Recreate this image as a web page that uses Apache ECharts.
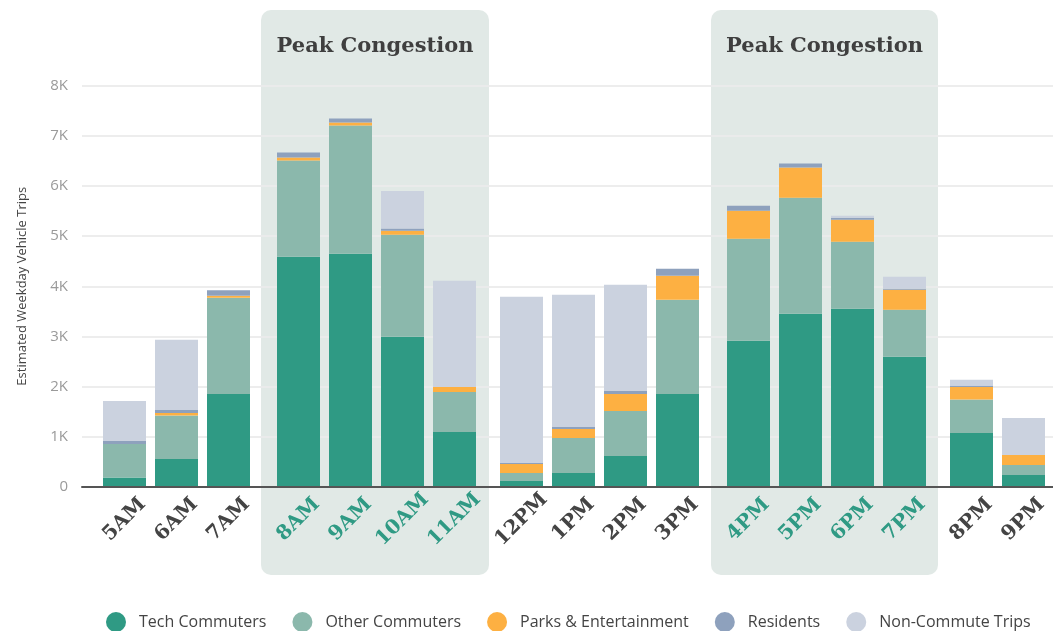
<!DOCTYPE html>
<html>
<head>
<meta charset="utf-8">
<script src="https://cdn.jsdelivr.net/npm/echarts@6/dist/echarts.min.js"></script>
<style>
html,body{margin:0;padding:0;background:#fff;}
#chart{width:1053px;height:631px;}
</style>
</head>
<body>
<div id="chart"></div>
<script>
// ---- data ----
var hours = ['5AM','6AM','7AM','8AM','9AM','10AM','11AM','12PM','1PM','2PM','3PM','4PM','5PM','6PM','7PM','8PM','9PM'];
var groupSizes = [3, 4, 4, 4, 2];
var peakGroups = [false, true, false, true, false];
var seriesNames = ['Tech Commuters','Other Commuters','Parks & Entertainment','Residents','Non-Commute Trips'];
var techCommuters  = [180, 550, 1850, 4590, 4650, 2990, 1090, 110, 270, 610, 1850, 2910, 3450, 3550, 2590, 1070, 230];
var otherCommuters = [670, 870, 1920, 1920, 2560, 2040, 800, 160, 700, 900, 1880, 2040, 2320, 1340, 940, 670, 200];
var parksEnt       = [0, 50, 40, 60, 60, 80, 100, 180, 180, 340, 480, 560, 600, 440, 400, 250, 200];
var residents      = [60, 60, 110, 100, 80, 45, 0, 20, 40, 60, 140, 100, 80, 40, 20, 25, 0];
var nonCommute     = [800, 1400, 0, 0, 0, 750, 2120, 3320, 2640, 2120, 0, 0, 0, 40, 240, 115, 740];
var yTicks = [0, 1000, 2000, 3000, 4000, 5000, 6000, 7000, 8000];
var bandTitle = 'Peak Congestion';

// ---- styles / layout ----
var colors = ['#2f9a84', '#8bb8ac', '#fdb042', '#8ea1bd', '#cbd2df'];
var values = [techCommuters, otherCommuters, parksEnt, residents, nonCommute];
var plotTop = 86, plotBottom = 144.5;
var groupLefts = [98.5, 272.5, 495.5, 722.5, 945.5];
var band = 52;
var serif = '"DejaVu Serif", serif';
var sans = '"Open Sans", sans-serif';

var chart = echarts.init(document.getElementById('chart'), null, {renderer: 'canvas'});

var grids = [{left: 82, right: 0, top: plotTop, bottom: plotBottom}];
var xAxes = [{
  gridIndex: 0, type: 'category', data: [''],
  axisLine: {show: true, lineStyle: {color: '#555', width: 2}},
  axisTick: {show: false}, axisLabel: {show: false}, splitLine: {show: false}, z: 5
}];
var yAxes = [{
  gridIndex: 0, type: 'value', min: yTicks[0], max: yTicks[yTicks.length - 1], interval: yTicks[1] - yTicks[0],
  name: 'Estimated Weekday Vehicle Trips', nameLocation: 'middle', nameGap: 53,
  nameTextStyle: {color: '#444', fontSize: 13, fontFamily: sans},
  axisLine: {show: false}, axisTick: {show: false},
  axisLabel: {color: '#9a9a9a', fontSize: 15, fontFamily: sans, margin: 14,
    formatter: function (v) { return v === 0 ? '0' : (v / 1000) + 'K'; }},
  splitLine: {show: true, lineStyle: {color: 'rgba(235,235,235,0.9)', width: 2}}
}];
var series = [];
var start = 0;
groupSizes.forEach(function (n, g) {
  var cats = hours.slice(start, start + n);
  var gi = g + 1;
  grids.push({left: groupLefts[g], width: n * band, top: plotTop, bottom: plotBottom});
  xAxes.push({
    gridIndex: gi, type: 'category', data: cats,
    axisLine: {show: false}, axisTick: {show: false}, splitLine: {show: false},
    axisLabel: {rotate: 45, interval: 0, align: 'center', verticalAlign: 'middle', margin: 33,
      fontFamily: serif, fontWeight: 'bold', fontSize: 20,
      color: peakGroups[g] ? '#2f9a84' : '#444'}
  });
  yAxes.push({gridIndex: gi, type: 'value', min: yTicks[0], max: yTicks[yTicks.length - 1], show: false, splitLine: {show: false}});
  seriesNames.forEach(function (name, s) {
    series.push({
      name: name, type: 'bar', stack: 'g' + g, xAxisIndex: gi, yAxisIndex: gi,
      barWidth: 43, itemStyle: {color: colors[s]},
      emphasis: {disabled: true},
      data: values[s].slice(start, start + n)
    });
  });
  start += n;
});

var shades = [[261, 228], [711, 227]];
var graphics = [];
shades.forEach(function (sh) {
  graphics.push({type: 'rect', z: -100, shape: {x: sh[0], y: 10, width: sh[1], height: 565, r: 10},
    style: {fill: '#e1e9e6'}, silent: true});
  graphics.push({type: 'text', z: -99, x: sh[0] + sh[1] / 2, y: 47,
    style: {text: bandTitle, fill: '#3f3f3f', font: 'bold 21px ' + serif, textAlign: 'center', textVerticalAlign: 'middle'}, silent: true});
});

chart.setOption({
  animation: false,
  backgroundColor: '#fff',
  graphic: {elements: graphics},
  grid: grids,
  xAxis: xAxes,
  yAxis: yAxes,
  legend: {
    data: seriesNames, left: 101, top: 607, icon: 'circle', itemWidth: 20, itemHeight: 20,
    itemGap: 26, textStyle: {color: '#444', fontSize: 16, fontFamily: sans, padding: [0, 0, 0, 8], lineHeight: 20}
  },
  series: series
});
</script>
</body>
</html>
